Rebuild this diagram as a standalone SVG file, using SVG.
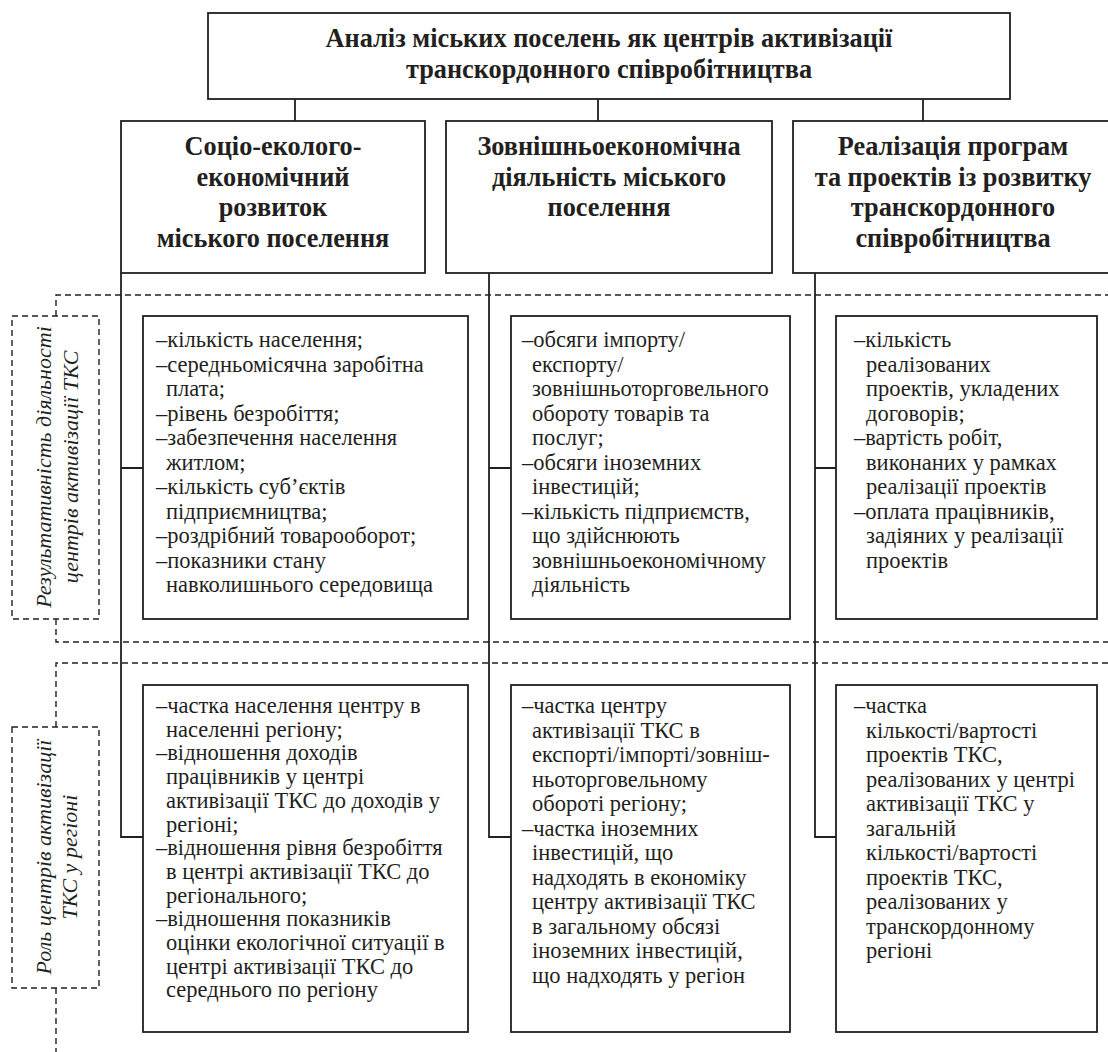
<svg xmlns="http://www.w3.org/2000/svg" width="1108" height="1052" viewBox="0 0 1108 1052">
<style>
.box{fill:#fff;stroke:#231f20;stroke-width:1.8}
.ln{fill:none;stroke:#231f20;stroke-width:1.8}
.dash{fill:none;stroke:#231f20;stroke-width:1.4;stroke-dasharray:6 4}
.h{font-family:"Liberation Serif","Times New Roman",serif;font-weight:bold;font-size:26.3px;fill:#231f20;text-anchor:middle}
.t{font-family:"Liberation Serif","Times New Roman",serif;font-size:22.5px;fill:#231f20}
.lab{font-family:"Liberation Serif","Times New Roman",serif;font-style:italic;font-size:22px;fill:#231f20;text-anchor:middle}
</style>
<rect width="1108" height="1052" fill="#fff"/>
<g id="bands">
<path class="dash" d="M56,316 V295 H1110 M56,619 V642 H1110"/>
<path class="dash" d="M56,727 V663 H1110 M56,988 V1052"/>
</g>
<g id="connectors">
<path class="ln" d="M295,99 V121 M598,99 V121 M923,99 V121"/>
<path class="ln" d="M121,273 V837 H143 M121,468 H143"/>
<path class="ln" d="M489,273 V837 H511 M489,468 H511"/>
<path class="ln" d="M815,273 V837 H836 M815,468 H836"/>
</g>
<g id="title">
<rect class="box" x="208" y="13" width="802" height="86"/>
<text class="h" x="609" y="47">Аналіз міських поселень як центрів активізації</text>
<text class="h" x="609" y="78">транскордонного співробітництва</text>
</g>
<g id="head1">
<rect class="box" x="121" y="121" width="304" height="152"/>
<text class="h" x="273" y="155">Соціо-еколого-</text>
<text class="h" x="273" y="186">економічний</text>
<text class="h" x="273" y="216">розвиток</text>
<text class="h" x="273" y="247">міського поселення</text>
</g>
<g id="head2">
<rect class="box" x="446" y="121" width="326" height="152"/>
<text class="h" x="609" y="155">Зовнішньоекономічна</text>
<text class="h" x="609" y="186">діяльність міського</text>
<text class="h" x="609" y="216">поселення</text>
</g>
<g id="head3">
<rect class="box" x="793" y="121" width="330" height="152"/>
<text class="h" x="953" y="155">Реалізація програм</text>
<text class="h" x="953" y="186">та проектів із розвитку</text>
<text class="h" x="953" y="216">транскордонного</text>
<text class="h" x="953" y="247">співробітництва</text>
</g>
<g id="label1">
<rect class="dash" x="12" y="316" width="87" height="303"/>
<text class="lab" transform="translate(51,467) rotate(-90)">Результативність діяльності</text>
<text class="lab" transform="translate(78,467) rotate(-90)">центрів активізації ТКС</text>
</g>
<g id="label2">
<rect class="dash" x="12" y="727" width="87" height="261"/>
<text class="lab" transform="translate(51,857) rotate(-90)">Роль центрів активізації</text>
<text class="lab" transform="translate(77,857) rotate(-90)">ТКС у регіоні</text>
</g>
<g id="box11">
<rect class="box" x="143" y="316" width="325" height="303"/>
<text class="t" y="347">
<tspan x="156">–кількість населення;</tspan>
<tspan x="156" dy="24.5">–середньомісячна заробітна</tspan>
<tspan x="166" dy="24.5">плата;</tspan>
<tspan x="156" dy="24.5">–рівень безробіття;</tspan>
<tspan x="156" dy="24.5">–забезпечення населення</tspan>
<tspan x="166" dy="24.5">житлом;</tspan>
<tspan x="156" dy="24.5">–кількість суб’єктів</tspan>
<tspan x="166" dy="24.5">підприємництва;</tspan>
<tspan x="156" dy="24.5">–роздрібний товарооборот;</tspan>
<tspan x="156" dy="24.5">–показники стану</tspan>
<tspan x="166" dy="24.5">навколишнього середовища</tspan>
</text>
</g>
<g id="box12">
<rect class="box" x="511" y="316" width="279" height="303"/>
<text class="t" y="347">
<tspan x="522">–обсяги імпорту/</tspan>
<tspan x="532" dy="24.5">експорту/</tspan>
<tspan x="532" dy="24.5">зовнішньоторговельного</tspan>
<tspan x="532" dy="24.5">обороту товарів та</tspan>
<tspan x="532" dy="24.5">послуг;</tspan>
<tspan x="522" dy="24.5">–обсяги іноземних</tspan>
<tspan x="532" dy="24.5">інвестицій;</tspan>
<tspan x="522" dy="24.5">–кількість підприємств,</tspan>
<tspan x="532" dy="24.5">що здійснюють</tspan>
<tspan x="532" dy="24.5">зовнішньоекономічному</tspan>
<tspan x="532" dy="24.5">діяльність</tspan>
</text>
</g>
<g id="box13">
<rect class="box" x="836" y="316" width="261" height="303"/>
<text class="t" y="347">
<tspan x="854">–кількість</tspan>
<tspan x="866" dy="24.5">реалізованих</tspan>
<tspan x="866" dy="24.5">проектів, укладених</tspan>
<tspan x="866" dy="24.5">договорів;</tspan>
<tspan x="854" dy="24.5">–вартість робіт,</tspan>
<tspan x="866" dy="24.5">виконаних у рамках</tspan>
<tspan x="866" dy="24.5">реалізації проектів</tspan>
<tspan x="854" dy="24.5">–оплата працівників,</tspan>
<tspan x="866" dy="24.5">задіяних у реалізації</tspan>
<tspan x="866" dy="24.5">проектів</tspan>
</text>
</g>
<g id="box21">
<rect class="box" x="143" y="685" width="325" height="347"/>
<text class="t" y="713">
<tspan x="156">–частка населення центру в</tspan>
<tspan x="166" dy="23.7">населенні регіону;</tspan>
<tspan x="156" dy="23.7">–відношення доходів</tspan>
<tspan x="166" dy="23.7">працівників у центрі</tspan>
<tspan x="166" dy="23.7">активізації ТКС до доходів у</tspan>
<tspan x="166" dy="23.7">регіоні;</tspan>
<tspan x="156" dy="23.7">–відношення рівня безробіття</tspan>
<tspan x="166" dy="23.7">в центрі активізації ТКС до</tspan>
<tspan x="166" dy="23.7">регіонального;</tspan>
<tspan x="156" dy="23.7">–відношення показників</tspan>
<tspan x="166" dy="23.7">оцінки екологічної ситуації в</tspan>
<tspan x="166" dy="23.7">центрі активізації ТКС до</tspan>
<tspan x="166" dy="23.7">середнього по регіону</tspan>
</text>
</g>
<g id="box22">
<rect class="box" x="511" y="685" width="279" height="347"/>
<text class="t" y="713">
<tspan x="522">–частка центру</tspan>
<tspan x="532" dy="24.5">активізації ТКС в</tspan>
<tspan x="532" dy="24.5">експорті/імпорті/зовніш-</tspan>
<tspan x="532" dy="24.5">ньоторговельному</tspan>
<tspan x="532" dy="24.5">обороті регіону;</tspan>
<tspan x="522" dy="24.5">–частка іноземних</tspan>
<tspan x="532" dy="24.5">інвестицій, що</tspan>
<tspan x="532" dy="24.5">надходять в економіку</tspan>
<tspan x="532" dy="24.5">центру активізації ТКС</tspan>
<tspan x="532" dy="24.5">в загальному обсязі</tspan>
<tspan x="532" dy="24.5">іноземних інвестицій,</tspan>
<tspan x="532" dy="24.5">що надходять у регіон</tspan>
</text>
</g>
<g id="box23">
<rect class="box" x="836" y="685" width="261" height="347"/>
<text class="t" y="713">
<tspan x="854">–частка</tspan>
<tspan x="866" dy="24.5">кількості/вартості</tspan>
<tspan x="866" dy="24.5">проектів ТКС,</tspan>
<tspan x="866" dy="24.5">реалізованих у центрі</tspan>
<tspan x="866" dy="24.5">активізації ТКС у</tspan>
<tspan x="866" dy="24.5">загальній</tspan>
<tspan x="866" dy="24.5">кількості/вартості</tspan>
<tspan x="866" dy="24.5">проектів ТКС,</tspan>
<tspan x="866" dy="24.5">реалізованих у</tspan>
<tspan x="866" dy="24.5">транскордонному</tspan>
<tspan x="866" dy="24.5">регіоні</tspan>
</text>
</g>
</svg>
